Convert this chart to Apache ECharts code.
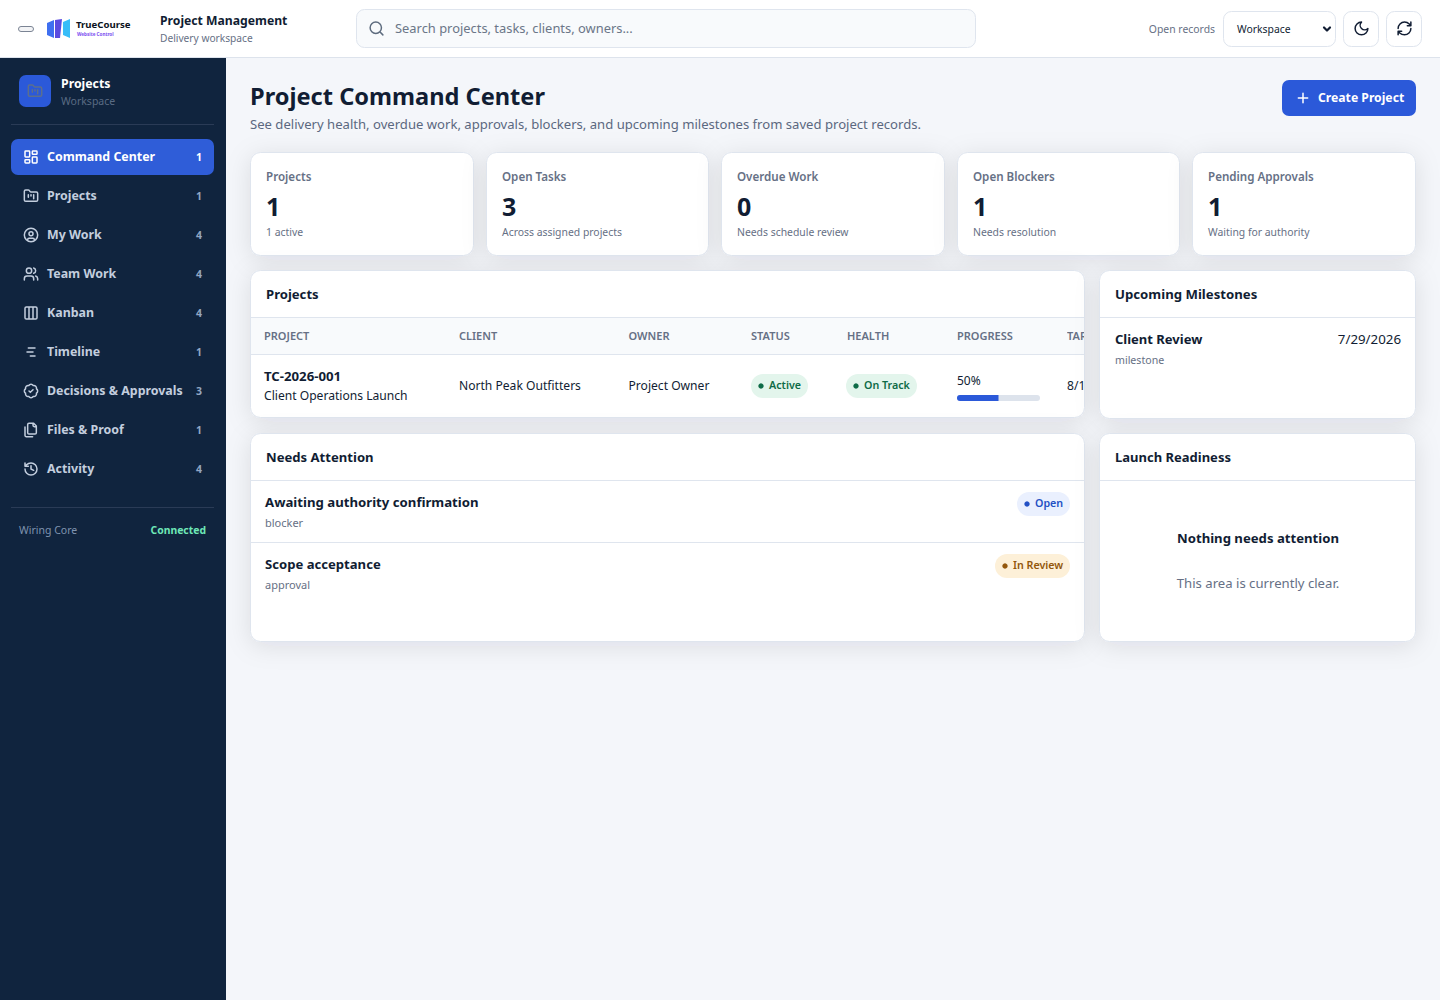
<!DOCTYPE html>
<html>
<head>
<meta charset="utf-8">
<title>Project Command Center</title>
<script src="https://cdn.jsdelivr.net/npm/echarts@6/dist/echarts.min.js"></script>
<style>
    html, body { margin: 0; padding: 0; background: #f4f6fa; }
    #main { width: 1440px; height: 1000px; }
</style>
</head>
<body>
<div id="main"></div>
<script>
const navLabels = ['Command Center', 'Projects', 'My Work', 'Team Work', 'Kanban', 'Timeline', 'Decisions & Approvals', 'Files & Proof', 'Activity'];
const navCounts = [1, 1, 4, 4, 4, 1, 3, 1, 4];
const kpiLabels = ['Projects', 'Open Tasks', 'Overdue Work', 'Open Blockers', 'Pending Approvals'];
const kpiValues = [1, 3, 0, 1, 1];
const kpiNotes = ['1 active', 'Across assigned projects', 'Needs schedule review', 'Needs resolution', 'Waiting for authority'];
const tableHeads = ['PROJECT', 'CLIENT', 'OWNER', 'STATUS', 'HEALTH', 'PROGRESS'];
const clippedColumn = ['TAR', '8/1'];
const progressNames = ['TC-2026-001'];
const progressValues = [50];

const FONT = "'Noto Sans'";
const C = {
    ink: '#111d33', muted: '#667085', line: '#dfe5ee', blue: '#2b59d9', navy: '#10243e',
    nav: '#c3cede', count: '#93a6c2'
};

// lucide icon outlines, 24x24 box
const ICONS = {
    search: 'M3 11a8 8 0 1 0 16 0a8 8 0 1 0 -16 0M21 21l-4.34-4.34',
    moon: 'M12 3a6 6 0 0 0 9 9 9 9 0 1 1-9-9Z',
    refresh: 'M3 12a9 9 0 0 1 9-9 9.75 9.75 0 0 1 6.74 2.74L21 8M21 3v5h-5M21 12a9 9 0 0 1-9 9 9.75 9.75 0 0 1-6.74-2.74L3 16M8 16H3v5',
    plus: 'M5 12h14M12 5v14',
    dashboard: 'M4 3h5a1 1 0 0 1 1 1v7a1 1 0 0 1-1 1H4a1 1 0 0 1-1-1V4a1 1 0 0 1 1-1ZM15 3h5a1 1 0 0 1 1 1v3a1 1 0 0 1-1 1h-5a1 1 0 0 1-1-1V4a1 1 0 0 1 1-1ZM15 12h5a1 1 0 0 1 1 1v7a1 1 0 0 1-1 1h-5a1 1 0 0 1-1-1v-7a1 1 0 0 1 1-1ZM4 16h5a1 1 0 0 1 1 1v3a1 1 0 0 1-1 1H4a1 1 0 0 1-1-1v-3a1 1 0 0 1 1-1Z',
    folder: 'M4 20h16a2 2 0 0 0 2-2V8a2 2 0 0 0-2-2h-7.93a2 2 0 0 1-1.66-.9l-.82-1.2A2 2 0 0 0 7.93 3H4a2 2 0 0 0-2 2v13c0 1.1.9 2 2 2ZM8 10v4M12 10v2M16 10v6',
    user: 'M2 12a10 10 0 1 0 20 0a10 10 0 1 0 -20 0M9 10a3 3 0 1 0 6 0a3 3 0 1 0 -6 0M7 20.662V19a2 2 0 0 1 2-2h6a2 2 0 0 1 2 2v1.662',
    users: 'M16 21v-2a4 4 0 0 0-4-4H6a4 4 0 0 0-4 4v2M16 3.128a4 4 0 0 1 0 7.744M22 21v-2a4 4 0 0 0-3-3.87M5 7a4 4 0 1 0 8 0a4 4 0 1 0 -8 0',
    kanban: 'M5 3h14a2 2 0 0 1 2 2v14a2 2 0 0 1-2 2H5a2 2 0 0 1-2-2V5a2 2 0 0 1 2-2ZM9 3v18M15 3v18',
    timeline: 'M8 6h10M6 12h9M11 18h7',
    badge: 'M3.85 8.62a4 4 0 0 1 4.78-4.77 4 4 0 0 1 6.74 0 4 4 0 0 1 4.78 4.78 4 4 0 0 1 0 6.74 4 4 0 0 1-4.77 4.78 4 4 0 0 1-6.75 0 4 4 0 0 1-4.78-4.77 4 4 0 0 1 0-6.76ZM9 12l2 2 4-4',
    files: 'M20 7h-3a2 2 0 0 1-2-2V2M9 18a2 2 0 0 1-2-2V4a2 2 0 0 1 2-2h7l4 4v10a2 2 0 0 1-2 2ZM3 7.6v12.8A1.6 1.6 0 0 0 4.6 22h9.8',
    history: 'M3 12a9 9 0 1 0 9-9 9.75 9.75 0 0 0-6.74 2.74L3 8M3 3v5h5M12 7v5l4 2',
    chevron: 'M6 9l6 6 6-6'
};
Object.keys(ICONS).forEach(function (k) {
    echarts.graphic.registerShape('ic_' + k, echarts.graphic.extendPath(ICONS[k]));
});
const navIcons = ['dashboard', 'folder', 'user', 'users', 'kanban', 'timeline', 'badge', 'files', 'history'];

const els = [];
function rect(x, y, w, h, r, fill, stroke, extra) {
    els.push({
        type: 'rect', silent: true,
        shape: { x: x, y: y, width: w, height: h, r: r },
        style: Object.assign({ fill: fill, stroke: stroke || null, lineWidth: stroke ? 1 : 0 }, extra || {})
    });
}
function text(str, x, y, size, weight, color, align) {
    els.push({
        type: 'text', silent: true, x: x, y: y,
        style: {
            text: String(str), fill: color, font: weight + ' ' + size + 'px ' + FONT,
            textAlign: align || 'left', textVerticalAlign: 'middle'
        }
    });
}
function icon(name, x, y, size, color, lw) {
    const k = size / 24;
    els.push({
        type: 'ic_' + name, silent: true, x: x, y: y, scaleX: k, scaleY: k,
        style: { fill: null, stroke: color, lineWidth: (lw || 1.5) / k, lineCap: 'round', lineJoin: 'round' }
    });
}
function card(x, y, w, h) {
    rect(x + .5, y + .5, w - 1, h - 1, 10, '#fff', C.line, {
        shadowBlur: 24, shadowColor: 'rgba(16,36,62,0.10)', shadowOffsetY: 4
    });
}
function pill(x, y, w, label, bg, color) {
    rect(x, y, w, 24, 12, bg);
    els.push({ type: 'circle', silent: true, shape: { cx: x + 10, cy: y + 12, r: 2.7 }, style: { fill: color } });
    text(label, x + 18, y + 11.2, 10.7, 600, color);
}
function hline(x, y, w, color) {
    rect(x, y, w, 1, 0, color || C.line);
}
function poly(points, fill) {
    els.push({ type: 'polygon', silent: true, shape: { points: points }, style: { fill: fill } });
}

// header
rect(0, 0, 1440, 57, 0, '#fff');
hline(0, 57, 1440, '#dde3ec');
rect(18.5, 26.5, 15, 5, 2.5, '#f3f4f6', '#7b8494');
poly([[47, 23], [54, 20], [54, 38], [47, 35]], '#3f6ff0');
poly([[55, 20], [62, 19], [60, 38], [55, 38]], '#5b4be0');
poly([[63, 22], [70, 19], [70, 38], [63, 35]], '#38bdf8');
text('TrueCourse', 76, 24.5, 9.6, 'bold', '#0b1220');
text('Website Control', 77, 34, 4.6, 'bold', '#7c4ff0');
text('Project Management', 160, 20, 12.2, 'bold', C.ink);
text('Delivery workspace', 160, 38, 10.2, 'normal', C.muted);
rect(356.5, 9.5, 619, 38, 8, '#f8fafc', C.line);
icon('search', 368, 20, 17, '#5d6b7e');
text('Search projects, tasks, clients, owners...', 395, 28, 12.9, 'normal', '#6b7688');
text('Open records', 1215, 29, 10.4, 'normal', C.muted, 'right');
rect(1223.5, 11.5, 112, 35, 8, '#fff', C.line);
text('Workspace', 1237, 29, 10.4, 'normal', C.ink);
icon('chevron', 1321, 23, 12, '#111d33', 2.2);
rect(1343.5, 11.5, 35, 35, 8, '#fff', C.line);
icon('moon', 1353, 20, 17, C.ink);
rect(1386.5, 11.5, 35, 35, 8, '#fff', C.line);
icon('refresh', 1396, 20, 17, C.ink);

// sidebar
rect(0, 58, 226, 942, 0, C.navy);
rect(19, 75, 32, 32, 7, C.blue);
icon('folder', 27, 83, 16, '#5c6f8d');
text('Projects', 61, 83, 12.3, 'bold', '#fff');
text('Workspace', 61, 101, 10.5, 'normal', '#5a6b83');
hline(11, 124, 203, '#2a3b56');
rect(11, 139, 203, 36, 7, '#2f5dd8');
navLabels.forEach(function (label, i) {
    const y = 157 + i * 39;
    const on = i === 0;
    icon(navIcons[i], 23, y - 8, 16, on ? '#fff' : C.nav);
    text(label, 47, y - 1, 12.4, 'bold', on ? '#fff' : C.nav);
    text(navCounts[i], 202, y, 10.5, 'bold', on ? '#fff' : C.count, 'right');
});
hline(11, 507, 203, '#2a3b56');
text('Wiring Core', 19, 530, 10.5, 'normal', '#7f93af');
text('Connected', 206, 530, 10.4, 'bold', '#6ee7b7', 'right');

// title row
text('Project Command Center', 250, 95.5, 23.6, 'bold', C.ink);
text('See delivery health, overdue work, approvals, blockers, and upcoming milestones from saved project records.', 250, 124, 13.1, 'normal', '#5b6880');
rect(1282, 80, 134, 36, 7, C.blue);
icon('plus', 1295, 90, 16, '#fff');
text('Create Project', 1318, 97.5, 12.2, 'bold', '#fff');

// kpi tiles
const kpiX = [250, 486, 721, 957, 1192];
const kpiW = [224, 223, 224, 223, 224];
kpiLabels.forEach(function (label, i) {
    card(kpiX[i], 152, kpiW[i], 104);
    text(label, kpiX[i] + 16, 176, 11.6, 600, C.muted);
    text(kpiValues[i], kpiX[i] + 16, 206, 25, 'bold', C.ink);
    text(kpiNotes[i], kpiX[i] + 16, 232, 10.4, 'normal', C.muted);
});

// projects table
card(250, 270, 835, 148);
text('Projects', 266, 294, 13.1, 'bold', C.ink);
rect(251, 318, 833, 36, 0, '#f8fafc');
hline(251, 317, 833);
hline(251, 354, 833);
const headX = [264, 459, 628.5, 751, 847, 957];
tableHeads.forEach(function (h, i) {
    text(h, headX[i], 335.4, 11, 600, C.muted);
});
text(progressNames[0], 264, 376, 13.2, 'bold', C.ink);
text('Client Operations Launch', 264, 395, 12.1, 'normal', C.ink);
text('North Peak Outfitters', 459, 385, 12.1, 'normal', C.ink);
text('Project Owner', 628.5, 385, 12.1, 'normal', C.ink);
pill(751, 374, 57, 'Active', '#e3f5ec', '#0e6b47');
pill(846, 374, 71, 'On Track', '#e3f5ec', '#0e6b47');
text(progressValues[0] + '%', 957, 380.5, 12, 'normal', C.ink);

// milestones
card(1099, 270, 317, 149);
text('Upcoming Milestones', 1115, 294, 13.2, 'bold', C.ink);
hline(1100, 317, 315);
text('Client Review', 1115, 339, 13, 'bold', C.ink);
text('7/29/2026', 1401, 339, 13.3, 'normal', C.ink, 'right');
text('milestone', 1115, 360, 10.6, 'normal', C.muted);

// needs attention
card(250, 433, 835, 209);
text('Needs Attention', 266, 457, 13.1, 'bold', C.ink);
hline(251, 480, 833);
text('Awaiting authority confirmation', 265, 502, 13.2, 'bold', C.ink);
text('blocker', 265, 522.4, 11, 'normal', C.muted);
pill(1017, 492, 53, 'Open', '#eaf0fe', '#2350c4');
hline(251, 542, 833);
text('Scope acceptance', 265, 564, 13.1, 'bold', C.ink);
text('approval', 265, 584.4, 11, 'normal', C.muted);
pill(995, 554, 75, 'In Review', '#fdf0d8', '#93570c');

// launch readiness
card(1099, 433, 317, 209);
text('Launch Readiness', 1115, 457, 13, 'bold', C.ink);
hline(1100, 480, 315);
text('Nothing needs attention', 1258, 538, 13.15, 'bold', C.ink, 'center');
text('This area is currently clear.', 1258, 583, 13.15, 'normal', C.muted, 'center');

const chart = echarts.init(document.getElementById('main'), null, { renderer: 'svg' });
chart.setOption({
    animation: false,
    backgroundColor: '#f4f6fa',
    graphic: { elements: els },
    grid: { left: 957, top: 395, width: 83, height: 6, containLabel: false },
    xAxis: { type: 'value', min: 0, max: 100, show: false },
    yAxis: { type: 'category', data: progressNames, show: false },
    series: [
        {
            type: 'bar',
            data: progressValues,
            barWidth: 6,
            silent: true,
            showBackground: true,
            backgroundStyle: { color: '#dde3ec', borderRadius: 3 },
            itemStyle: { color: C.blue, borderRadius: [3, 0, 0, 3] }
        },
        {
            // last table column runs under the panel edge, so it is clipped there
            type: 'custom',
            coordinateSystem: 'none',
            silent: true,
            data: clippedColumn.map(function (s, i) { return [i]; }),
            renderItem: function (params, api) {
                const i = api.value(0);
                return {
                    type: 'text',
                    x: 1067,
                    y: i === 0 ? 335.4 : 385,
                    style: {
                        text: clippedColumn[i],
                        fill: i === 0 ? C.muted : C.ink,
                        font: (i === 0 ? '600 11px ' : 'normal 12.1px ') + FONT,
                        textVerticalAlign: 'middle'
                    },
                    clipPath: { type: 'rect', shape: { x: 0, y: -12, width: 17, height: 24 } }
                };
            }
        }
    ]
});
</script>
</body>
</html>
